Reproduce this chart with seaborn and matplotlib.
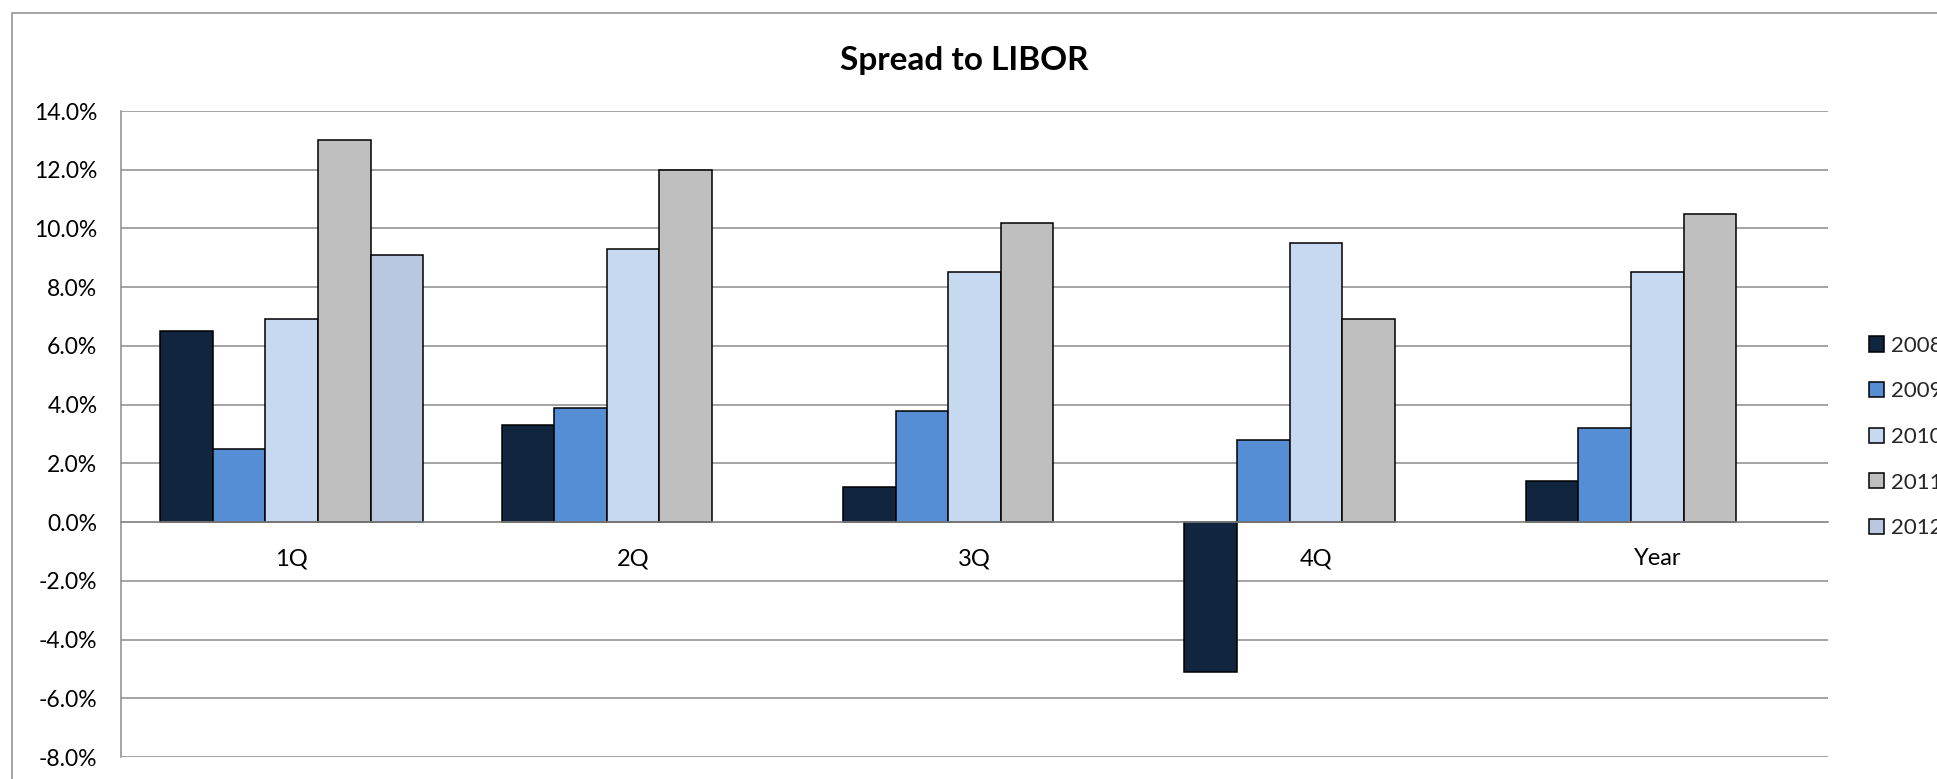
import pandas as pd
import matplotlib
matplotlib.use("Agg")
import matplotlib.pyplot as plt
from matplotlib.patches import Rectangle, Patch
from matplotlib.ticker import FuncFormatter
import seaborn as sns

# values, in percent
periods = ["1Q", "2Q", "3Q", "4Q", "Year"]
years = ["2008", "2009", "2010", "2011", "2012"]
spread_2008 = [6.5, 3.3, 1.2, -5.1, 1.4]
spread_2009 = [2.5, 3.9, 3.8, 2.8, 3.2]
spread_2010 = [6.9, 9.3, 8.5, 9.5, 8.5]
spread_2011 = [13.0, 12.0, 10.2, 6.9, 10.5]
spread_2012 = [9.1, None, None, None, None]
colors = ["#12253F", "#558ED5", "#C6D9F1", "#BFBFBF", "#B9C7E1"]

series = dict(zip(years, [spread_2008, spread_2009, spread_2010, spread_2011, spread_2012]))
rows = []
for yr, vals in series.items():
    for p, v in zip(periods, vals):
        if v is not None:
            rows.append({"period": p, "year": yr, "spread": v})
df = pd.DataFrame(rows)

sns.set_style("white")
plt.rcParams["font.family"] = ["Lato", "DejaVu Sans"]

W, H = 1937, 779
fig = plt.figure(figsize=(W / 100, H / 100), dpi=100)
ax = fig.add_axes([121 / W, 1 - 757 / H, (1828 - 121) / W, (757 - 111) / H])

sns.barplot(data=df, x="period", y="spread", hue="year", order=periods,
            hue_order=years, palette=colors, saturation=1, width=0.77, gap=0,
            edgecolor="black", linewidth=1.1, legend=False, ax=ax)

grid_c = "#8C8C8C"
ax.set_ylim(-8, 14)
ax.set_yticks(range(-8, 15, 2))
ax.yaxis.set_major_formatter(FuncFormatter(lambda v, _: f"{v:.1f}%"))
ax.grid(axis="y", color=grid_c, linewidth=1.1)
ax.set_axisbelow(True)
ax.set_xlabel("")
ax.set_ylabel("")

for s in ["top", "right"]:
    ax.spines[s].set_visible(False)
ax.spines["left"].set_color(grid_c)
ax.spines["left"].set_linewidth(1.1)
ax.spines["bottom"].set_position(("data", 0))
ax.spines["bottom"].set_color(grid_c)
ax.spines["bottom"].set_linewidth(1.1)
ax.tick_params(axis="y", length=0, pad=17, labelsize=16.5, labelcolor="black")
ax.tick_params(axis="x", length=0, pad=19, labelsize=17, labelcolor="black")

fig.text(964 / W, 1 - 70 / H, "Spread to LIBOR", ha="center", va="baseline",
         fontsize=24, fontweight="bold", color="black")

handles = [Patch(facecolor=c, edgecolor="black", linewidth=1.1) for c in colors]
fig.legend(handles, years, loc="center left", bbox_to_anchor=(1869 / W, 1 - 437 / H),
           frameon=False, fontsize=16, borderpad=0, borderaxespad=0,
           handlelength=0.68, handleheight=0.68, handletextpad=0.31, labelspacing=1.15)

# outer chart border (cut off on the right and bottom)
fig.patches.append(Rectangle((12 / W, -0.1), 1.2, 1.1 - 13 / H, transform=fig.transFigure,
                             fill=False, edgecolor=grid_c, linewidth=1.1))

fig.savefig("out.png", dpi=100)
